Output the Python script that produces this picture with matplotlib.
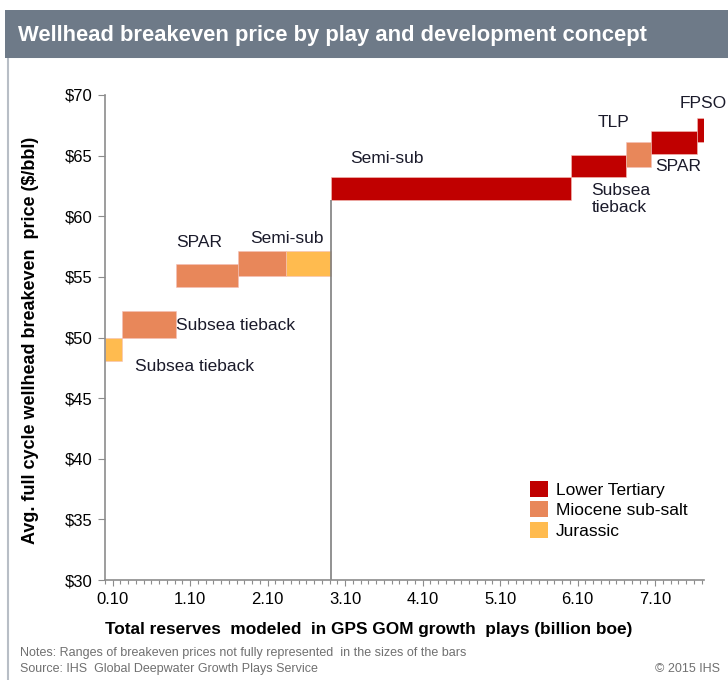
import numpy as np
import matplotlib
matplotlib.use("Agg")
import matplotlib.pyplot as plt
from matplotlib.patches import Rectangle
from matplotlib.ticker import MultipleLocator, FixedLocator

plt.rcParams['font.family'] = ['Liberation Sans', 'DejaVu Sans']

# reserves per play/concept (billion boe), in order along the x axis
widths = [0.22, 0.70, 0.80, 0.62, 0.58, 3.09, 0.71, 0.33, 0.59, 0.10]
price_low = [48.1, 50.0, 54.2, 55.1, 55.1, 61.3, 63.2, 64.1, 65.1, 66.1]
price_high = [50.0, 52.2, 56.1, 57.1, 57.1, 63.2, 65.05, 66.1, 67.0, 68.1]
plays = ['Jurassic', 'Miocene sub-salt', 'Miocene sub-salt', 'Miocene sub-salt',
         'Jurassic', 'Lower Tertiary', 'Lower Tertiary', 'Miocene sub-salt',
         'Lower Tertiary', 'Lower Tertiary']

play_names = ['Lower Tertiary', 'Miocene sub-salt', 'Jurassic']
play_colors = {'Lower Tertiary': '#c00000',
               'Miocene sub-salt': '#e8875a',
               'Jurassic': '#ffbb4f'}

# concept labels: text, x, y
labels = ['Subsea tieback', 'Subsea tieback', 'SPAR', 'Semi-sub', 'Semi-sub',
          'Subsea\ntieback', 'TLP', 'SPAR', 'FPSO']
label_x = [0.39, 0.92, 0.92, 1.87, 3.16, 6.28, 6.36, 7.10, 7.42]
label_y = [47.6, 51.0, 57.8, 58.2, 64.8, 61.4, 67.7, 64.1, 69.3]

xticks = [0.1, 1.1, 2.1, 3.1, 4.1, 5.1, 6.1, 7.1]
yticks = [30, 35, 40, 45, 50, 55, 60, 65, 70]

fig = plt.figure(figsize=(7.28, 6.8), dpi=100)

# outer frame and title bar
fig.patches.append(Rectangle((8 / 728, -0.01), 1, 1 - 50 / 680, transform=fig.transFigure,
                             facecolor='white', edgecolor='#b8bec6', linewidth=1.5, zorder=-2))
fig.patches.append(Rectangle((5 / 728, 1 - 58 / 680), 1, 48 / 680, transform=fig.transFigure,
                             facecolor='#6e7a88', edgecolor='none', zorder=-1))
fig.text(18 / 728, 1 - 35 / 680, 'Wellhead breakeven price by play and development concept',
         color='white', fontsize=15.8, fontweight='bold', va='center', ha='left')

ax = fig.add_axes([105 / 728, 100 / 680, 599 / 728, 485 / 680])
ax.patch.set_alpha(0)

starts = np.concatenate([[0], np.cumsum(widths)[:-1]])
for x0, w, lo, hi, p in zip(starts, widths, price_low, price_high, plays):
    ax.add_patch(Rectangle((x0, lo), w, hi - lo, facecolor=play_colors[p],
                           edgecolor='#f4c0b8', linewidth=0.4))

ax.vlines(starts[5], 30, price_low[5], color='#7f7f7f', linewidth=1.2)

for t, x, y in zip(labels, label_x, label_y):
    ax.text(x, y, t, fontsize=12.5, color='#1a1a2a', ha='left', va='center',
            linespacing=1.15)

ax.set_xlim(0, 7.73)
ax.set_ylim(30, 70)
ax.xaxis.set_major_locator(FixedLocator(xticks))
ax.set_xticklabels(['%.2f' % v for v in xticks])
ax.xaxis.set_minor_locator(MultipleLocator(0.1))
ax.set_yticks(yticks)
ax.set_yticklabels(['$%d' % v for v in yticks])

for s in ['top', 'right']:
    ax.spines[s].set_visible(False)
for s in ['left', 'bottom']:
    ax.spines[s].set_color('#8c8c8c')
    ax.spines[s].set_linewidth(1.2)
ax.tick_params(axis='y', length=5, color='#8c8c8c', labelsize=12, pad=4)
ax.tick_params(axis='x', which='major', length=4, color='#8c8c8c', labelsize=12, pad=5)
ax.tick_params(axis='x', which='minor', length=3, color='#8c8c8c', width=0.8)

ax.set_xlabel('Total reserves  modeled  in GPS GOM growth  plays (billion boe)',
              fontsize=12.4, fontweight='bold')
ax.xaxis.set_label_coords(0.44, -0.087)
ax.set_ylabel('Avg. full cycle wellhead breakeven  price ($/bbl)',
              fontsize=13, fontweight='bold')
ax.yaxis.set_label_coords(-0.11, 0.495)

handles = [Rectangle((0, 0), 1, 1, facecolor=play_colors[n]) for n in play_names]
ax.legend(handles, play_names, loc='lower left', bbox_to_anchor=(0.69, 0.06),
          frameon=False, fontsize=12.5, handlelength=1.0, handleheight=1.0,
          handletextpad=0.45, labelspacing=0.22, borderpad=0.2)

fig.text(20 / 728, 1 - 653 / 680, 'Notes: Ranges of breakeven prices not fully represented  in the sizes of the bars',
         fontsize=9, color='#707070', va='center')
fig.text(20 / 728, 1 - 669 / 680, 'Source: IHS  Global Deepwater Growth Plays Service',
         fontsize=9, color='#707070', va='center')
fig.text(720 / 728, 1 - 669 / 680, '\u00a9 2015 IHS', fontsize=9, color='#707070',
         va='center', ha='right')

fig.savefig('out.png', dpi=100)
